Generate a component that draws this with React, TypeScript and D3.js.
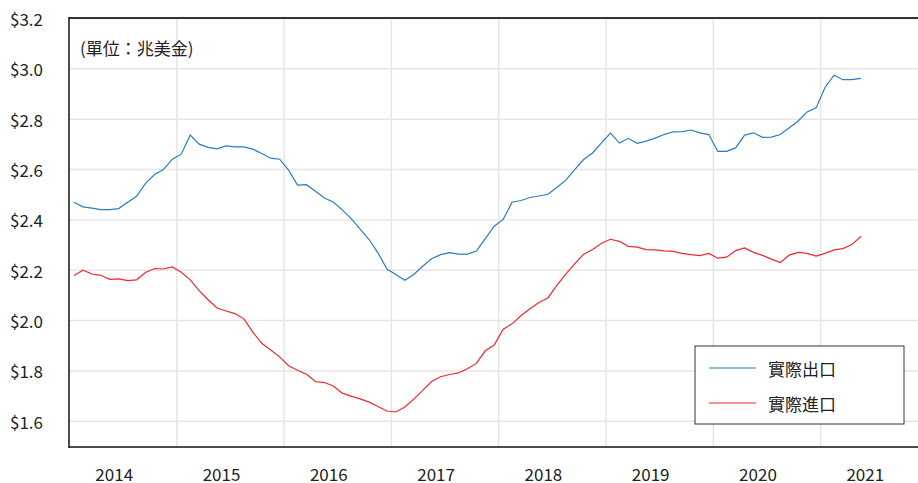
import React from "react";
import * as d3 from "d3";

// Monthly values (index 0 = first month shown), trillions USD
const exportsReal = [
  2.470, 2.452, 2.447, 2.441, 2.441, 2.445, 2.470, 2.494, 2.545, 2.580,
  2.600, 2.641, 2.661, 2.737, 2.701, 2.688, 2.682, 2.694, 2.690, 2.690,
  2.681, 2.664, 2.645, 2.641, 2.598, 2.538, 2.540, 2.514, 2.487, 2.471,
  2.440, 2.405, 2.363, 2.322, 2.269, 2.205, 2.183, 2.160, 2.183, 2.216,
  2.246, 2.262, 2.270, 2.264, 2.264, 2.276, 2.326, 2.375, 2.402, 2.470,
  2.477, 2.489, 2.495, 2.502, 2.529, 2.558, 2.600, 2.640, 2.666, 2.706,
  2.745, 2.705, 2.724, 2.704, 2.713, 2.725, 2.739, 2.750, 2.751, 2.757,
  2.746, 2.739, 2.672, 2.672, 2.686, 2.737, 2.746, 2.728, 2.729, 2.739,
  2.766, 2.793, 2.829, 2.845, 2.926, 2.975, 2.957, 2.957, 2.962,
];
const importsReal = [
  2.179, 2.200, 2.185, 2.180, 2.164, 2.166, 2.159, 2.162, 2.191, 2.207,
  2.205, 2.213, 2.192, 2.162, 2.119, 2.083, 2.050, 2.038, 2.028, 2.007,
  1.954, 1.910, 1.883, 1.856, 1.821, 1.803, 1.787, 1.758, 1.754, 1.740,
  1.712, 1.700, 1.689, 1.676, 1.659, 1.641, 1.637, 1.657, 1.688, 1.723,
  1.758, 1.777, 1.786, 1.792, 1.809, 1.830, 1.880, 1.903, 1.966, 1.987,
  2.020, 2.047, 2.072, 2.090, 2.140, 2.185, 2.225, 2.264, 2.282, 2.307,
  2.323, 2.315, 2.295, 2.292, 2.282, 2.281, 2.277, 2.275, 2.267, 2.262,
  2.258, 2.267, 2.248, 2.252, 2.278, 2.289, 2.271, 2.259, 2.244, 2.231,
  2.260, 2.271, 2.267, 2.256, 2.267, 2.281, 2.286, 2.302, 2.334,
];
const yearLabels = ["2014", "2015", "2016", "2017", "2018", "2019", "2020", "2021"];
const yTicks = [1.6, 1.8, 2.0, 2.2, 2.4, 2.6, 2.8, 3.0, 3.2];
const seriesNames = ["實際出口", "實際進口"];
const seriesColors = ["#2e7bbd", "#f0282d"];
const unitLabel = "(單位：兆美金)";

const W = 918;
const H = 483;
const left = 69;
const right = 919;
const top = 18;
const bottom = 447;
const FONT = "'Noto Sans CJK JP', 'Noto Sans CJK TC', 'Noto Sans', sans-serif";

export default function App() {
  const x = d3.scaleLinear().domain([0, 88]).range([74, 860.8]);
  const y = d3.scaleLinear().domain([1.6, 3.2]).range([421.3, 18.5]);

  const line = d3
    .line<number>()
    .x((_, i) => x(i))
    .y((d) => y(d));

  const gridX = yearLabels.map((_, k) => 11.5 + 12 * k);
  const labelX = yearLabels.map((_, k) => 4.5 + 12 * k);
  const series = [exportsReal, importsReal];

  return (
    <svg
      width={W}
      height={H}
      style={{ position: "absolute", left: 0, top: 0, background: "#fff" }}
      fontFamily={FONT}
    >
      <defs>
        <clipPath id="plot">
          <rect x={left} y={top} width={right - left} height={bottom - top} />
        </clipPath>
      </defs>
      <g clipPath="url(#plot)">
        {yTicks.map((t) => (
          <line key={"gy" + t} x1={left} x2={right} y1={y(t)} y2={y(t)} stroke="#e6e6e6" strokeWidth={1.5} />
        ))}
        {gridX.map((g) => (
          <line key={"gx" + g} x1={x(g)} x2={x(g)} y1={top} y2={bottom} stroke="#e6e6e6" strokeWidth={1.5} />
        ))}
        {series.map((s, i) => (
          <path key={i} d={line(s) || ""} fill="none" stroke={seriesColors[i]} strokeWidth={1.2} />
        ))}
      </g>
      {/* frame */}
      <line x1={left} x2={right} y1={top} y2={top} stroke="#333" strokeWidth={2} />
      <line x1={left} x2={left} y1={top - 1} y2={bottom + 1} stroke="#111" strokeWidth={1.5} />
      <line x1={left} x2={right} y1={bottom} y2={bottom} stroke="#111" strokeWidth={1.5} />
      <line x1={right} x2={right} y1={top} y2={bottom} stroke="#111" strokeWidth={1.5} />

      {yTicks.map((t) => (
        <text key={"ty" + t} x={43} y={y(t)} textAnchor="end" dominantBaseline="central" fontSize={17} fill="#222">
          {"$" + d3.format(".1f")(t)}
        </text>
      ))}
      {labelX.map((lx, k) => (
        <text key={"tx" + k} x={x(lx)} y={473} textAnchor="middle" dominantBaseline="central" fontSize={17} fill="#222">
          {yearLabels[k]}
        </text>
      ))}

      <text x={80} y={47} dominantBaseline="central" fontSize={17} fill="#222">
        {unitLabel}
      </text>

      {/* legend */}
      <rect x={695} y={346} width={209} height={78} fill="#fff" stroke="#333" strokeWidth={1} />
      {seriesNames.map((n, i) => (
        <g key={n}>
          <line x1={709} x2={756} y1={368 + i * 35} y2={368 + i * 35} stroke={seriesColors[i]} strokeWidth={1.2} />
          <text x={768} y={368 + i * 35} dominantBaseline="central" fontSize={17} fill="#222">
            {n}
          </text>
        </g>
      ))}
    </svg>
  );
}
